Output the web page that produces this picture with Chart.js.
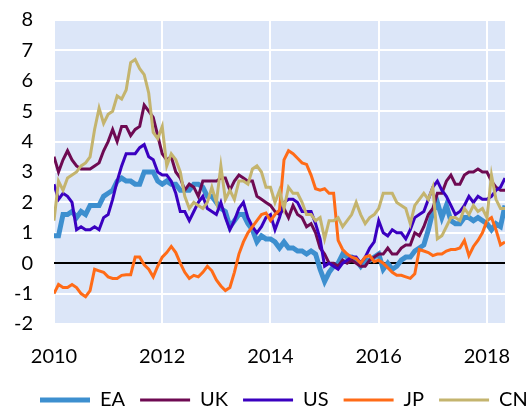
<!DOCTYPE html>
<html>
<head>
<meta charset="utf-8">
<script src="https://cdn.jsdelivr.net/npm/chart.js@4.4.0/dist/chart.umd.min.js"></script>
<style>
  html, body { margin: 0; padding: 0; background: #fff; }
</style>
</head>
<body>
<canvas id="inflationChart" width="527" height="409"></canvas>
<script>
// monthly, Jan 2010 .. May 2018, annual % change
const startYear = 2010;
const xTicks = [2010, 2012, 2014, 2016, 2018];

const ea = [
  0.9, 0.9, 1.6, 1.6, 1.7, 1.5, 1.7, 1.6, 1.9, 1.9, 1.9, 2.2,
  2.3, 2.4, 2.7, 2.8, 2.7, 2.7, 2.6, 2.6, 3.0, 3.0, 3.0, 2.7,
  2.6, 2.7, 2.6, 2.6, 2.4, 2.4, 2.4, 2.6, 2.6, 2.5, 2.2, 2.2,
  2.0, 1.8, 1.7, 1.2, 1.4, 1.6, 1.6, 1.3, 1.1, 0.7, 0.9, 0.8,
  0.8, 0.7, 0.5, 0.7, 0.5, 0.5, 0.4, 0.4, 0.3, 0.4, 0.3, -0.2,
  -0.6, -0.3, -0.1, 0.0, 0.3, 0.2, 0.2, 0.1, -0.1, 0.1, 0.1, 0.2,
  0.3, -0.2, 0.0, -0.2, -0.1, 0.1, 0.2, 0.2, 0.4, 0.5, 0.6, 1.1,
  1.7, 2.0, 1.5, 1.9, 1.4, 1.3, 1.3, 1.5, 1.5, 1.4, 1.5, 1.4,
  1.3, 1.1, 1.3, 1.2, 1.9
];
const uk = [
  3.5, 3.0, 3.4, 3.7, 3.4, 3.2, 3.1, 3.1, 3.1, 3.2, 3.3, 3.7,
  4.0, 4.4, 4.0, 4.5, 4.5, 4.2, 4.4, 4.5, 5.2, 5.0, 4.8, 4.2,
  3.6, 3.4, 3.5, 3.0, 2.8, 2.4, 2.6, 2.5, 2.2, 2.7, 2.7, 2.7,
  2.7, 2.8, 2.8, 2.4, 2.7, 2.9, 2.8, 2.7, 2.7, 2.2, 2.1, 2.0,
  1.9, 1.7, 1.6, 1.8, 1.5, 1.9, 1.6, 1.5, 1.2, 1.3, 1.0, 0.5,
  0.3, 0.0, 0.0, -0.1, 0.1, 0.0, 0.1, 0.0, -0.1, -0.1, 0.1, 0.2,
  0.3, 0.3, 0.5, 0.3, 0.3, 0.5, 0.6, 0.6, 1.0, 0.9, 1.2, 1.6,
  1.8, 2.3, 2.3, 2.7, 2.9, 2.6, 2.6, 2.9, 3.0, 3.0, 3.1, 3.0,
  3.0, 2.7, 2.5, 2.4, 2.4
];
const us = [
  2.6, 2.1, 2.3, 2.2, 2.0, 1.1, 1.2, 1.1, 1.1, 1.2, 1.1, 1.5,
  1.6, 2.1, 2.7, 3.2, 3.6, 3.6, 3.6, 3.8, 3.9, 3.5, 3.4, 3.0,
  2.9, 2.9, 2.7, 2.3, 1.7, 1.7, 1.4, 1.7, 2.0, 2.2, 1.8, 1.7,
  1.6, 2.0, 1.5, 1.1, 1.4, 1.8, 2.0, 1.5, 1.2, 1.0, 1.2, 1.5,
  1.6, 1.1, 1.5, 2.0, 2.1, 2.1, 2.0, 1.7, 1.7, 1.7, 1.3, 0.8,
  -0.1, 0.0, -0.1, -0.2, 0.0, 0.1, 0.2, 0.2, 0.0, 0.2, 0.5, 0.7,
  1.4, 1.0, 0.9, 1.1, 1.0, 1.0, 0.8, 1.1, 1.5, 1.6, 1.7, 2.1,
  2.5, 2.7, 2.4, 2.2, 1.9, 1.6, 1.7, 1.9, 2.2, 2.0, 2.2, 2.1,
  2.1, 2.2, 2.4, 2.5, 2.8
];
const jp = [
  -1.0, -0.7, -0.8, -0.8, -0.7, -0.8, -1.0, -1.1, -0.9, -0.2, -0.25, -0.3,
  -0.45, -0.5, -0.5, -0.4, -0.38, -0.38, 0.2, 0.2, -0.05, -0.2, -0.45, -0.1,
  0.2, 0.35, 0.55, 0.35, 0.0, -0.3, -0.5, -0.4, -0.45, -0.3, -0.1, -0.25,
  -0.55, -0.75, -0.9, -0.8, -0.3, 0.3, 0.7, 1.0, 1.2, 1.4, 1.6, 1.65,
  1.4, 1.6, 1.75, 3.4, 3.7, 3.6, 3.45, 3.3, 3.25, 2.9, 2.45, 2.4,
  2.45, 2.3, 2.3, 0.75, 0.45, 0.3, 0.2, 0.15, 0.0, 0.2, 0.25, 0.05,
  0.1, 0.0, -0.15, -0.3, -0.4, -0.4, -0.45, -0.5, -0.35, 0.45, 0.4, 0.35,
  0.25, 0.3, 0.3, 0.4, 0.45, 0.45, 0.5, 0.75, 0.25, 0.55, 0.75, 1.0,
  1.4, 1.5, 1.1, 0.6, 0.7
];
const cn = [
  1.4, 2.7, 2.4, 2.8, 2.9, 3.0, 3.2, 3.3, 3.5, 4.4, 5.1, 4.6,
  4.9, 5.0, 5.5, 5.4, 5.7, 6.6, 6.7, 6.4, 6.2, 5.6, 4.3, 4.1,
  4.5, 3.2, 3.6, 3.4, 3.0, 2.2, 1.8, 2.0, 1.9, 1.8, 2.0, 2.5,
  2.0, 3.2, 2.1, 2.4, 2.1, 2.7, 2.7, 2.6, 3.1, 3.2, 3.0, 2.5,
  2.5, 2.0, 2.4, 1.8, 2.5, 2.3, 2.3, 2.0, 1.6, 1.6, 1.4, 1.5,
  0.8, 1.4, 1.4, 1.5, 1.2, 1.4, 1.6, 2.0, 1.6, 1.3, 1.5, 1.6,
  1.8, 2.3, 2.3, 2.3, 2.0, 1.9, 1.8, 1.3, 1.9, 2.1, 2.3, 2.1,
  2.5, 0.8, 0.9, 1.2, 1.5, 1.5, 1.4, 1.8, 1.6, 1.9, 1.7, 1.8,
  1.5, 2.9, 2.1, 1.8, 1.8
];

const months = ea.map((_, i) => startYear + i / 12);

const font = { family: 'Lato', size: 20 };

// light blue panel behind the plot, legend nudged right
const plotBackground = {
  id: 'plotBackground',
  afterLayout(chart) {
    chart.legend.left += 25;
    chart.legend.right += 25;
  },
  beforeDraw(chart) {
    const { ctx, chartArea: a } = chart;
    ctx.save();
    ctx.fillStyle = '#dce6f8';
    ctx.fillRect(a.left, a.top, a.right - a.left, a.bottom - a.top);
    ctx.restore();
  }
};

function series(label, values, color, width, order) {
  return {
    label: label,
    data: values.map((v, i) => ({ x: months[i], y: v })),
    borderColor: color,
    backgroundColor: color,
    borderWidth: width,
    pointRadius: 0,
    pointHoverRadius: 0,
    pointBorderWidth: width,
    pointBorderColor: color,
    tension: 0,
    fill: false,
    order: order
  };
}

const ctx = document.getElementById('inflationChart').getContext('2d');
new Chart(ctx, {
  type: 'line',
  data: {
    datasets: [
      series('EA', ea, '#3d8fcf', 5, 5),
      series('UK', uk, '#6e0a52', 3, 4),
      series('US', us, '#3a00c0', 3, 3),
      series('JP', jp, '#ff6b17', 3, 2),
      series('CN', cn, '#c4b46e', 3, 1)
    ]
  },
  options: {
    responsive: false,
    animation: false,
    layout: { padding: { top: 20, right: -20, bottom: -11, left: 0 } },
    plugins: {
      tooltip: { enabled: false },
      legend: {
        position: 'bottom',
        align: 'start',
        labels: {
          font: font,
          color: '#000',
          usePointStyle: true,
          pointStyle: 'line',
          pointStyleWidth: 50,
          padding: 15,
          sort: (a, b) => a.datasetIndex - b.datasetIndex
        }
      }
    },
    scales: {
      x: {
        type: 'linear',
        min: 2010,
        max: 2018 + 4 / 12,
        afterBuildTicks: s => { s.ticks = xTicks.map(v => ({ value: v })); },
        afterFit: s => { s.height = 51; s.paddingLeft = 0; s.paddingRight = 22; },
        ticks: {
          font: font,
          color: '#000',
          padding: 21,
          maxRotation: 0,
          autoSkip: false,
          callback: v => String(v)
        },
        grid: { color: '#fff', lineWidth: 2, drawTicks: false },
        border: { display: false }
      },
      y: {
        min: -2,
        max: 8,
        afterFit: s => { s.width = 54; s.paddingTop = 0; s.paddingBottom = 0; },
        ticks: { stepSize: 1, autoSkip: false, font: font, color: '#000', padding: 21 },
        grid: {
          color: c => (c.tick && c.tick.value === 0 ? '#000' : '#fff'),
          lineWidth: 2,
          drawTicks: false
        },
        border: { display: false }
      }
    }
  },
  plugins: [plotBackground]
});
</script>
</body>
</html>
